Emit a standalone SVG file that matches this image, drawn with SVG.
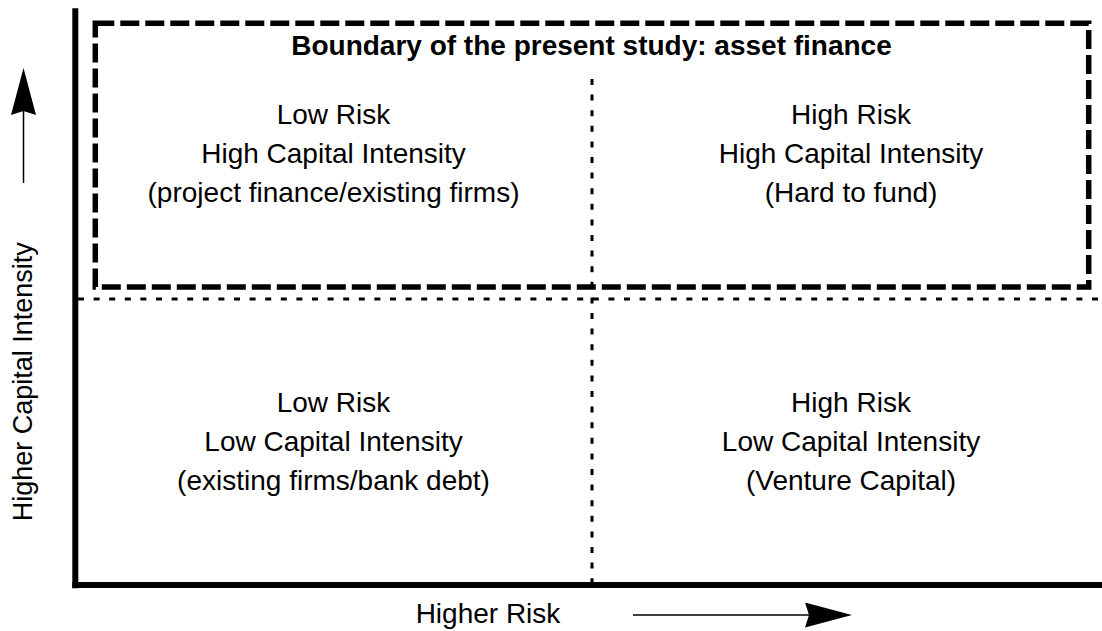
<svg xmlns="http://www.w3.org/2000/svg" width="1102" height="631" viewBox="0 0 1102 631">
  <style>
    .lbl { font-family: "Liberation Sans", Arial, sans-serif; font-size: 28px; fill: #000; text-anchor: middle; }
    .title { font-family: "Liberation Sans", Arial, sans-serif; font-size: 28px; font-weight: bold; fill: #000; text-anchor: middle; }
    .axis { stroke: #000; stroke-width: 6; fill: none; }
    .dot { stroke: #000; stroke-width: 3; stroke-dasharray: 6 9.6; fill: none; }
    .bound { stroke: #000; stroke-width: 5.5; stroke-dasharray: 19 6; fill: none; }
    .shaft { stroke: #000; stroke-width: 1.5; fill: none; }
  </style>
  <defs>
    <marker id="head" markerUnits="userSpaceOnUse" markerWidth="48" markerHeight="26" refX="4" refY="12.5" orient="auto" viewBox="0 0 48 26">
      <path d="M0,0 L47,12.5 L0,25 L4,12.5 Z" fill="#000"/>
    </marker>
  </defs>
  <rect width="1102" height="631" fill="#fff"/>

  <g id="boundary">
    <rect class="bound" x="95.3" y="23.3" width="993.4" height="263.7"/>
    <text class="title" x="591.5" y="55">Boundary of the present study: asset finance</text>
  </g>

  <g id="connectors">
    <line class="dot" x1="592" y1="79" x2="592" y2="582"/>
    <line class="dot" x1="78" y1="299" x2="1102" y2="299"/>
    <line class="axis" x1="75.3" y1="8.3" x2="75.3" y2="588.3"/>
    <line class="axis" x1="72.3" y1="585" x2="1102" y2="585"/>
    <line class="shaft" x1="23.5" y1="183" x2="23.5" y2="111" marker-end="url(#head)"/>
    <line class="shaft" x1="633" y1="615" x2="809" y2="615" marker-end="url(#head)"/>
  </g>

  <g id="q-low-risk-high-cap">
    <text class="lbl" x="333.5" y="124">Low Risk</text>
    <text class="lbl" x="333.5" y="163">High Capital Intensity</text>
    <text class="lbl" x="333.5" y="202">(project finance/existing firms)</text>
  </g>
  <g id="q-high-risk-high-cap">
    <text class="lbl" x="851" y="124">High Risk</text>
    <text class="lbl" x="851" y="163">High Capital Intensity</text>
    <text class="lbl" x="851" y="202">(Hard to fund)</text>
  </g>
  <g id="q-low-risk-low-cap">
    <text class="lbl" x="333.5" y="412">Low Risk</text>
    <text class="lbl" x="333.5" y="451">Low Capital Intensity</text>
    <text class="lbl" x="333.5" y="490">(existing firms/bank debt)</text>
  </g>
  <g id="q-high-risk-low-cap">
    <text class="lbl" x="851" y="412">High Risk</text>
    <text class="lbl" x="851" y="451">Low Capital Intensity</text>
    <text class="lbl" x="851" y="490">(Venture Capital)</text>
  </g>

  <g id="axis-labels">
    <text class="lbl" style="font-size:27px" transform="translate(32.3,381.7) rotate(-90)">Higher Capital Intensity</text>
    <text class="lbl" x="488" y="623">Higher Risk</text>
  </g>
</svg>
